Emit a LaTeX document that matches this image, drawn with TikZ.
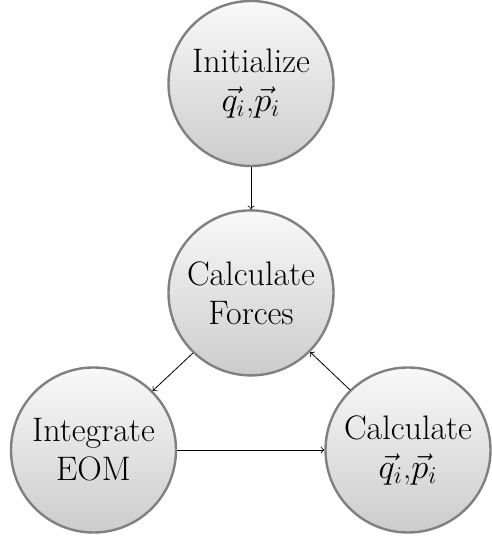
\documentclass[tikz,border=0pt]{standalone}
\usepackage{tikz}
\usetikzlibrary{positioning,calc}

\begin{document}
\begin{tikzpicture}[x=1pt, y=1pt,
				stage/.style={circle, draw=gray, very thick, minimum size=82.5pt, inner sep=0pt,
					top color=gray!5, bottom color=gray!40, align=center,
					font=\fontsize{17}{19.5}\selectfont},
				flow/.style={->, thin}
			]
			\useasboundingbox (0,0) rectangle (245.5,269.5);
			\node[stage] (init) at (125.5,227.75) {Initialize\\$\vec{q}_i$,$\vec{p}_i$};
			\node[stage] (forces) [below=21pt of init] {Calculate\\Forces};
			\node[stage] (integrate) at (46.75,44.5) {Integrate\\EOM};
			\node[stage] (update) at (204,44.5) {Calculate\\$\vec{q}_i$,$\vec{p}_i$};
			\draw[flow] (init.south) -- (forces.north);
			\draw[flow] (forces.-134) -- (integrate.45);
			\draw[flow] (integrate.east) -- (update.west);
			\draw[flow] (update.134) -- (forces.-45);
			\end{tikzpicture}
\end{document}
